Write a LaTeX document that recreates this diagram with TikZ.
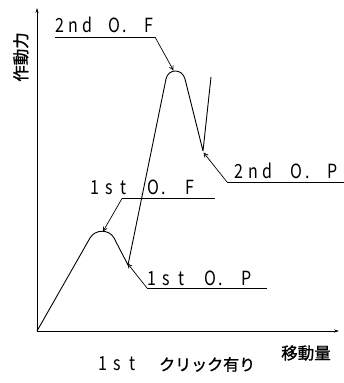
\documentclass[tikz,border=0pt]{standalone}
\usepackage{fontspec}
\setmainfont{Noto Sans CJK JP}
\newfontfamily\latfont[FakeStretch=0.82]{Noto Sans CJK JP}
\newfontfamily\jpfont[FakeBold=1.2]{Noto Sans CJK JP}
\usetikzlibrary{arrows.meta}
\newdimen\cellw
\makeatletter
\newcommand\spaced[2]{{\cellw=#1\relax\def\dotch{.}\@tfor\ch:=#2\do{\ifx\ch\dotch\makebox[0.5\cellw][c]{.}\else\makebox[\cellw][c]{\ch}\fi}}}
\makeatother
\tikzset{
  axis/.style={line width=0.8pt,-{Stealth[length=5pt,width=3pt]}},
  curve/.style={line width=0.9pt,line join=round},
  leader/.style={line width=0.7pt},
  pointer/.style={line width=0.7pt,-{Straight Barb[length=4pt,width=4pt]}},
  lbl/.style={inner sep=0pt,anchor=base west,font=\latfont\fontsize{19.5}{19.5}\selectfont},
  jlbl/.style={inner sep=0pt,font=\jpfont\fontsize{16.5}{16.5}\selectfont}
}
\begin{document}
\begin{tikzpicture}[x=1pt,y=-1pt]
\useasboundingbox (0,0) rectangle (344,383);
% axes
\coordinate (O) at (37,331);
\coordinate (ytop) at (37,8);
\coordinate (xend) at (339,331);
\draw[axis] (O) -- (ytop);
\draw[axis] (O) -- (xend);
% curve points
\coordinate (r1) at (90,238);
\coordinate (d1) at (114,238);
\coordinate (v1) at (128,265);
\coordinate (r2) at (166,79);
\coordinate (d2) at (185,79);
\coordinate (v2) at (203,151);
\coordinate (e) at (211,77);
\draw[curve] (O) -- (r1) .. controls (95.1,229) and (109.3,229) .. (d1) -- (v1)
  -- (r2) .. controls (168.2,68.3) and (182.3,68.3) .. (d2) -- (v2) -- (e);
% pointer targets
\coordinate (t2F) at (173.5,70.5);
\coordinate (t2P) at (203.5,152.5);
\coordinate (t1F) at (103,231.5);
\coordinate (t1P) at (127.5,263.5);
% leader lines
\coordinate (a2F) at (55,37);   \coordinate (b2F) at (155,37);
\coordinate (a2P) at (227,182); \coordinate (b2P) at (344,182);
\coordinate (a1F) at (122,198.5); \coordinate (b1F) at (215,198.5);
\coordinate (a1P) at (147,288); \coordinate (b1P) at (267,288);
\draw[leader] (a2F) -- (b2F);
\draw[leader] (a2P) -- (b2P);
\draw[leader] (a1F) -- (b1F);
\draw[leader] (a1P) -- (b1P);
\draw[pointer] (b2F) -- (t2F);
\draw[pointer] (a2P) -- (t2P);
\draw[pointer] (a1F) -- (t1F);
\draw[pointer] (a1P) -- (t1P);
% labels
\node[lbl] (L2F) at (52.6,32) {\spaced{13.7pt}{2nd~O.~F}};
\node[lbl] (L2P) at (232,178) {\spaced{14.3pt}{2nd~O.~P}};
\node[lbl] (L1F) at (87.2,194.5) {\spaced{14.6pt}{1st~O.~F}};
\node[lbl] (L1P) at (144.7,285) {\spaced{14.5pt}{1st~O.~P}};
\node[jlbl,rotate=90] (ylab) at (20.8,57) {作動力};
\node[jlbl] (xlab) at (306,353) {移動量};
\node[inner sep=0pt,anchor=base west] (cap) at (95,370.5)
  {{\latfont\fontsize{19.5}{19.5}\selectfont\spaced{15pt}{1st}}\hspace{19pt}{\jpfont\fontsize{16}{16}\selectfont クリック有り}};
\end{tikzpicture}
\end{document}
